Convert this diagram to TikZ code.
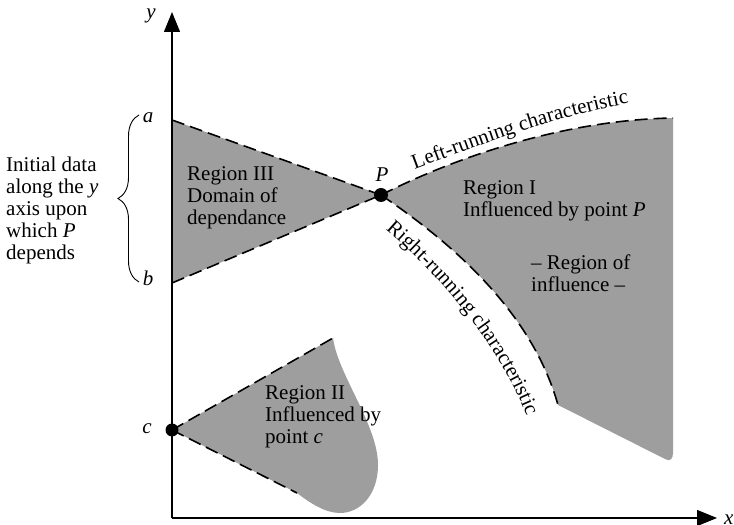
\documentclass[tikz,border=0pt]{standalone}
\usepackage{fontspec}
\setmainfont{Liberation Serif}
\usetikzlibrary{arrows.meta,decorations.text,decorations.pathreplacing}
\definecolor{screen}{gray}{0.62}

\begin{document}
\begin{tikzpicture}[
    x=1pt, y=1pt,
    lbl/.style={font=\fontsize{21}{22}\selectfont, inner sep=0pt, align=left},
    charline/.style={dash pattern=on 13pt off 6pt, line width=1.6pt},
    axis/.style={line width=1.2pt, -{Triangle[length=20pt, width=16pt]}},
    dot/.style={circle, fill=black, inner sep=0pt, minimum size=13pt}
]
  \useasboundingbox (0,0) rectangle (734,525);

  % Points on the axes and the point P
  \coordinate (O)    at (172,7);
  \coordinate (ytip) at (172,513);
  \coordinate (xtip) at (717,7);
  \coordinate (ya)   at (172,405);
  \coordinate (yb)   at (172,242);
  \coordinate (c)    at (172,95);
  \coordinate (P)    at (381,330);
  \coordinate (ltop) at (673,407);
  \coordinate (rend) at (558,120);
  \coordinate (ctop) at (333,187);
  \coordinate (clow) at (297,32);

  % Shaded regions
  \fill[screen] (ya) -- (P) -- (yb) -- cycle;
  \fill[screen] (P) .. controls (450,365) and (560,405) .. (ltop)
     -- (673,72) .. controls (673,66) and (670,63) .. (665,66) -- (rend)
     .. controls (530,220) and (440,290) .. (P) -- cycle;
  \fill[screen] (c) -- (ctop) .. controls (338,150) and (378,100) .. (378,60)
     .. controls (378,30) and (360,12) .. (340,12)
     .. controls (325,12) and (310,22) .. (clow) -- cycle;

  % Characteristics (dashed)
  \draw[charline] (ya) -- (P);
  \draw[charline] (yb) -- (P);
  \draw[charline] (P) .. controls (450,365) and (560,405) .. (ltop);
  \draw[charline] (P) .. controls (440,290) and (530,220) .. (rend);
  \draw[charline] (c) -- (ctop);
  \draw[charline] (c) -- (clow);

  % Axes
  \draw[axis] (O) -- (ytip);
  \draw[axis] (O) -- (xtip);

  \node[dot, minimum size=14pt] (Pdot) at (P) {};
  \node[dot] (cdot) at (c) {};

  % Axis labels
  \node[lbl] (ylab) at (151,509) {\textit{y}};
  \node[lbl, anchor=west] (xlab) at (724,5) {\textit{x}};
  \node[lbl] (alab) at (148,407) {\textit{a}};
  \node[lbl] (blab) at (148,247) {\textit{b}};
  \node[lbl] (clab) at (147,96) {\textit{c}};
  \node[lbl] (Plab) at (382,350) {\textit{P}};

  % Initial data on the y axis
  \draw[decorate, decoration={brace, amplitude=21pt}, line width=0.9pt]
     (139,243) -- (139,410);
  \node[lbl, anchor=west] (initdata) at (6,315)
     {Initial data\\along the \textit{y}\\axis upon\\which \textit{P}\\depends};

  % Region texts
  \node[lbl, anchor=west] (reg3) at (187,327) {Region III\\Domain of\\dependance};
  \node[lbl, anchor=west] (reg1) at (463,324) {Region I\\Influenced by point \textit{P}};
  \node[lbl, anchor=west] (infl) at (531,252) {– Region of\\influence –};
  \node[lbl, anchor=west] (reg2) at (265,108) {Region II\\Influenced by\\point \textit{c}};

  % Curved labels along the characteristics
  \path[decorate, decoration={text along path, text align=center,
        text={|\fontsize{21}{22}\selectfont|Left-running characteristic}}]
     (408,353) .. controls (480,380) and (560,410) .. (636,423);
  \path[decorate, decoration={text along path, text align=center,
        text={|\fontsize{21}{22}\selectfont|Right-running characteristic}}]
     (385,296) .. controls (439,250) and (499,181) .. (527,108);
\end{tikzpicture}
\end{document}
